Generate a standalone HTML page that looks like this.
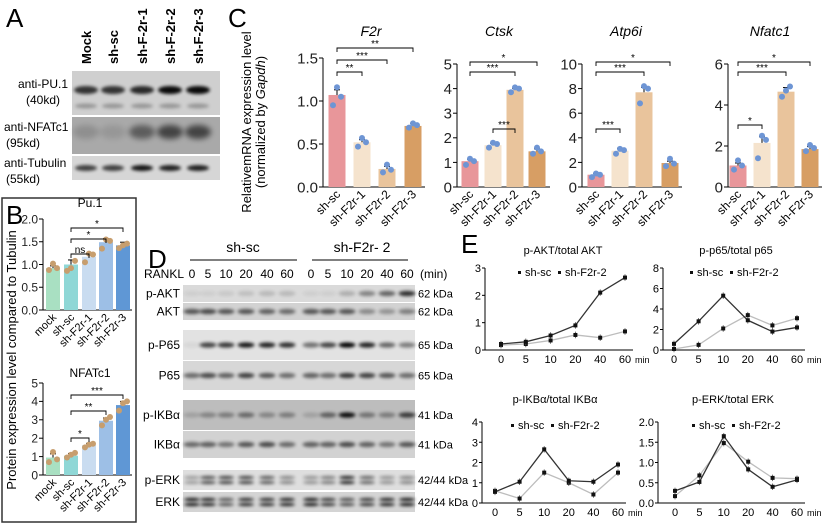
<!DOCTYPE html>
<html><head><meta charset="utf-8"><style>
html,body{margin:0;padding:0;background:#fff;}
svg{display:block;font-family:"Liberation Sans",Arial,sans-serif;}
</style></head><body>
<svg id="fig" width="825" height="524" viewBox="0 0 825 524" xmlns="http://www.w3.org/2000/svg">
<defs>
<filter id="blur1" x="-50%" y="-200%" width="200%" height="500%"><feGaussianBlur stdDeviation="1.6"/></filter>
<filter id="blur2" x="-50%" y="-200%" width="200%" height="500%"><feGaussianBlur stdDeviation="3"/></filter>
</defs>
</svg>
<script>
// ---------- DATA ----------
// Panel B
const bCats = ["mock","sh-sc","sh-F2r-1","sh-F2r-2","sh-F2r-3"];
const bPu1 = [0.92,1.0,1.17,1.49,1.42];
const bPu1Err = [0.05,0.1,0.08,0.08,0.07];
const bPu1Dots = [[0.88,1.02,0.92],[0.86,0.92,1.08],[1.05,1.24,1.22],[1.35,1.55,1.52],[1.36,1.42,1.46]];
const bNfat = [0.95,1.05,1.62,2.95,3.8];
const bNfatErr = [0.2,0.12,0.1,0.15,0.2];
const bNfatDots = [[0.7,1.25,0.85],[0.95,1.1,1.2],[1.5,1.65,1.7],[2.7,3.0,3.15],[3.5,3.9,4.0]];
// Panel C
const cCats = ["sh-sc","sh-F2r-1","sh-F2r-2","sh-F2r-3"];
const cF2r = [1.07,0.52,0.21,0.71];
const cF2rDots = [[0.95,1.16,1.05],[0.47,0.57,0.52],[0.17,0.26,0.2],[0.69,0.74,0.72]];
const cCtsk = [1.05,1.7,3.95,1.45];
const cCtskDots = [[0.9,1.15,1.05],[1.6,1.8,1.75],[3.85,4.05,4.0],[1.35,1.6,1.45]];
const cAtp = [1.0,2.95,7.7,1.95];
const cAtpDots = [[0.8,1.1,1.0],[2.7,3.1,3.0],[6.8,8.2,8.0],[1.7,2.3,1.9]];
const cNfat = [1.05,2.15,4.65,1.85];
const cNfatDots = [[0.85,1.3,1.05],[1.4,2.5,2.3],[4.4,4.7,4.9],[1.75,2.05,1.9]];
// Panel E
const eTimes = ["0","5","10","20","40","60"];
const eAktKd = [0.22,0.3,0.53,0.9,2.1,2.65];
const eAktSc = [0.18,0.22,0.35,0.55,0.45,0.68];
const eP65Kd = [0.6,2.8,5.3,2.9,1.8,2.2];
const eP65Sc = [0.1,0.5,2.1,3.4,2.4,3.1];
const eIkbKd = [0.55,1.05,2.65,1.1,1.05,1.9];
const eIkbSc = [0.6,0.22,1.5,1.0,0.42,1.5];
const eErkKd = [0.3,0.52,1.65,0.83,0.4,0.57];
const eErkSc = [0.17,0.68,1.48,1.02,0.62,0.6];

const NS="http://www.w3.org/2000/svg";
const svg=document.getElementById('fig');
function mk(tag,attrs,parent){const e=document.createElementNS(NS,tag);for(const k in attrs)e.setAttribute(k,attrs[k]);(parent||svg).appendChild(e);return e;}
function txt(s,attrs,parent){const e=mk('text',attrs,parent);e.textContent=s;return e;}

// ---------- Panel letters ----------
[["A",6,27],["C",228,27],["B",6,224],["D",148,268],["E",461,253]].forEach(p=>{
  const t=txt(p[0],{x:p[1],y:p[2],'font-size':26,fill:'#000'});
  
  
});

// ---------- Panel A blot ----------
const aLanes=["Mock","sh-sc","sh-F-2r-1","sh-F-2r-2","sh-F-2r-3"];
const aLaneX=[86,113,142,170,198];
const aPu=[0.75,0.75,0.8,0.95,0.95];
const aNf=[0.15,0.1,0.45,0.6,0.6];
const aTub=[0.7,0.7,0.9,0.85,0.85];
const gA=mk('g',{});


aLanes.forEach((l,i)=>{
  const t=txt(l,{x:aLaneX[i]+5,y:64,'font-size':13,'font-weight':'bold',transform:`rotate(-90 ${aLaneX[i]+5} 64)`},gA);
  
  
});
mk('rect',{x:72,y:71,width:148,height:44,fill:'#cfcfcf'},gA);
mk('rect',{x:72,y:117,width:148,height:37,fill:'#a9a9a9'},gA);
mk('rect',{x:72,y:156,width:148,height:24,fill:'#d6d6d6'},gA);
aLaneX.forEach((x,i)=>{
  mk('ellipse',{cx:x,cy:90,rx:12,ry:4,fill:'#000',opacity:aPu[i],filter:'url(#blur1)'},gA);
  mk('ellipse',{cx:x,cy:106,rx:11,ry:2.5,fill:'#333',opacity:0.35,filter:'url(#blur1)'},gA);
  mk('ellipse',{cx:x,cy:132,rx:13,ry:7,fill:'#000',opacity:aNf[i],filter:'url(#blur2)'},gA);
  mk('ellipse',{cx:x,cy:168,rx:11,ry:3,fill:'#000',opacity:aTub[i],filter:'url(#blur1)'},gA);
});
[["anti-PU.1",88],["(40kd)",104],["anti-NFATc1",131],["(95kd)",147],["anti-Tubulin",167],["(55kd)",183]].forEach(r=>{
  const t=txt(r[0],{x:r[0][0]=='('?4:68,y:r[1],'font-size':12,'text-anchor':r[0][0]=='('?'start':'end'},gA);
  
  
});
gA.querySelectorAll('text').forEach(t=>{if(t.textContent==="(40kd)"){t.setAttribute('x',26);} if(t.textContent==="(95kd)"||t.textContent==="(55kd)"){t.setAttribute('x',6);} if(t.textContent==="anti-NFATc1"||t.textContent==="anti-Tubulin"){t.setAttribute('text-anchor','start');t.setAttribute('x',4);}});

// ---------- Generic bar chart ----------
function barChart(cfg){
  const g=mk('g',{});
  
  
  const ys=v=>cfg.y0-(v/cfg.max)*(cfg.y0-cfg.yTop);
  mk('line',{x1:cfg.ax,y1:cfg.yTop,x2:cfg.ax,y2:cfg.y0,stroke:'#000','stroke-width':1},g);
  mk('line',{x1:cfg.ax,y1:cfg.y0,x2:cfg.xEnd,y2:cfg.y0,stroke:'#000','stroke-width':1},g);
  cfg.ticks.forEach(tv=>{
    const y=ys(tv);
    mk('line',{x1:cfg.ax-4,y1:y,x2:cfg.ax,y2:y,stroke:'#000'},g);
    const t=txt(cfg.fmt(tv),{x:cfg.ax-5,y:y+cfg.fs*0.36,'font-size':cfg.fs,'text-anchor':'end',fill:'#222'},g);
    
    
  });
  if(cfg.title){const t=txt(cfg.title,{x:cfg.titleX,y:cfg.titleY,'font-size':cfg.titleFs,'text-anchor':'middle','font-style':cfg.italic?'italic':'normal'},g);
    
    }
  cfg.vals.forEach((v,i)=>{
    const x=cfg.xs[i];
    const r=mk('rect',{x:x-cfg.bw/2,y:ys(v),width:cfg.bw,height:cfg.y0-ys(v),fill:cfg.colors[i]},g);
    
    
    const e=cfg.err[i];
    mk('line',{x1:x,y1:ys(v),x2:x,y2:ys(v+e),stroke:'#000'},g);
    mk('line',{x1:x-3,y1:ys(v+e),x2:x+3,y2:ys(v+e),stroke:'#000'},g);
    cfg.dots[i].forEach((d,j)=>{
      const c=mk('circle',{cx:x+(j-1)*4,cy:ys(d),r:3,fill:cfg.dotColor},g);
      
      
    });
    const lt=txt(cfg.cats[i],{x:x+4,y:cfg.y0+8,'font-size':cfg.lfs,'text-anchor':'end',transform:`rotate(-45 ${x+4} ${cfg.y0+8})`},g);
    
    
  });
  cfg.brackets.forEach(b=>{
    const x1=cfg.xs[b[0]],x2=cfg.xs[b[1]],y=b[2];
    const p=mk('path',{d:`M${x1},${y+4}V${y}H${x2}V${y+4}`,fill:'none',stroke:'#000','stroke-width':0.9},g);
    
    
    const t=txt(b[3],{x:(x1+x2)/2,y:y-1,'font-size':10,'text-anchor':'middle'},g);
    
    
  });
}

// ---------- Panel B ----------
const box=mk('rect',{x:2,y:198,width:134,height:324,fill:'none',stroke:'#333','stroke-width':1.5});


const bColors=['#a9e0c2','#8fd7d6','#c9dcf0','#9dbfe6','#5f97d5'];
const bXs=[53,71,89,106,123];
barChart({name:'pu1-bar-chart',ax:43,y0:310,yTop:219,max:2,xEnd:132,ticks:[0,0.5,1,1.5,2],fmt:v=>v.toFixed(1),fs:12,
  title:'Pu.1',titleX:90,titleY:207,titleFs:12,cats:bCats,vals:bPu1,err:bPu1Err,dots:bPu1Dots,xs:bXs,bw:14,colors:bColors,dotColor:'#c79e6e',lfs:11,
  brackets:[[1,2,254,'ns'],[1,3,239,'*'],[1,4,228,'*']]});
barChart({name:'nfatc1-bar-chart',ax:43,y0:475,yTop:383,max:5,xEnd:132,ticks:[0,1,2,3,4,5],fmt:v=>String(v),fs:12,
  title:'NFATc1',titleX:90,titleY:377,titleFs:12,cats:bCats,vals:bNfat,err:bNfatErr,dots:bNfatDots,xs:bXs,bw:14,colors:bColors,dotColor:'#c79e6e',lfs:11,
  brackets:[[1,2,438,'*'],[1,3,411,'**'],[1,4,395,'***']]});
const bY=txt('Protein expression level compared to Tubulin',{x:16,y:360,'font-size':13,'text-anchor':'middle',transform:'rotate(-90 16 360)'});



// ---------- Panel C ----------
const cColors=['#e8969a','#f5e3cd','#e9c49c','#d79e64'];
const cY1=txt('RelativemRNA expression level',{x:251,y:122,'font-size':13,'text-anchor':'middle',transform:'rotate(-90 251 122)'});


const cY2=mk('text',{x:265,y:122,'font-size':13,'text-anchor':'middle',transform:'rotate(-90 265 122)'});
cY2.innerHTML='(normalized by <tspan font-style="italic">Gapdh</tspan>)';


barChart({name:'f2r-bar-chart',ax:323,y0:187,yTop:58,max:1.5,xEnd:425,ticks:[0,0.5,1,1.5],fmt:v=>v.toFixed(1),fs:15,
  title:'F2r',titleX:371,titleY:36,titleFs:14,italic:true,cats:cCats,vals:cF2r,err:[0.06,0.03,0.03,0.03],dots:cF2rDots,xs:[337,362,387,413],bw:17,colors:cColors,dotColor:'#6e95d4',lfs:12,
  brackets:[[0,1,72,'**'],[0,2,60,'***'],[0,3,48,'**']]});
barChart({name:'ctsk-bar-chart',ax:457,y0:187,yTop:64,max:5,xEnd:550,ticks:[0,1,2,3,4,5],fmt:v=>String(v),fs:15,
  title:'Ctsk',titleX:499,titleY:36,titleFs:14,italic:true,cats:cCats,vals:cCtsk,err:[0.08,0.08,0.06,0.1],dots:cCtskDots,xs:[470,493,515,537],bw:17,colors:cColors,dotColor:'#6e95d4',lfs:12,
  brackets:[[1,2,129,'***'],[0,2,72,'***'],[0,3,62,'*']]});
barChart({name:'atp6i-bar-chart',ax:582,y0:187,yTop:64,max:10,xEnd:682,ticks:[0,2,4,6,8,10],fmt:v=>String(v),fs:15,
  title:'Atp6i',titleX:626,titleY:36,titleFs:14,italic:true,cats:cCats,vals:cAtp,err:[0.1,0.2,0.4,0.15],dots:cAtpDots,xs:[596,620,644,670],bw:17,colors:cColors,dotColor:'#6e95d4',lfs:12,
  brackets:[[0,1,129,'***'],[0,2,72,'***'],[0,3,62,'*']]});
barChart({name:'nfatc1-mrna-bar-chart',ax:728,y0:187,yTop:64,max:6,xEnd:822,ticks:[0,2,4,6],fmt:v=>String(v),fs:15,
  title:'Nfatc1',titleX:770,titleY:36,titleFs:14,italic:true,cats:cCats,vals:cNfat,err:[0.12,0.3,0.2,0.12],dots:cNfatDots,xs:[738,762,786,810],bw:17,colors:cColors,dotColor:'#6e95d4',lfs:12,
  brackets:[[0,1,125,'*'],[0,2,72,'***'],[0,3,62,'*']]});

// ---------- Panel D blot ----------
const dTimes=["0","5","10","20","40","60","0","5","10","20","40","60"];
const dLaneX=[192,208,226,246,267,287,311,328,347,367,387,407];
const dRows=[
  {name:'p-AKT',y1:285,y2:302,bg:'#dadada',kda:'62 kDa',band:[0.05,0.05,0.08,0.12,0.15,0.15,0.05,0.05,0.2,0.4,0.55,0.8]},
  {name:'AKT',y1:303,y2:320,bg:'#d2d2d2',kda:'62 kDa',band:[0.6,0.65,0.6,0.6,0.55,0.5,0.6,0.6,0.6,0.35,0.3,0.4]},
  {name:'p-P65',y1:330,y2:360,bg:'#e2e2e2',kda:'65 kDa',band:[0.05,0.7,0.75,0.9,0.85,0.8,0.5,0.7,1,0.85,0.55,0.45]},
  {name:'P65',y1:361,y2:390,bg:'#d7d7d7',kda:'65 kDa',band:[0.5,0.65,0.55,0.7,0.6,0.5,0.55,0.5,0.75,0.7,0.6,0.5]},
  {name:'p-IKB\u03b1',y1:400,y2:430,bg:'#bdbdbd',kda:'41 kDa',band:[0.15,0.3,0.35,0.45,0.3,0.35,0.15,0.5,0.95,0.4,0.35,0.7]},
  {name:'IKB\u03b1',y1:431,y2:458,bg:'#d2d2d2',kda:'41 kDa',band:[0.5,0.55,0.45,0.6,0.65,0.5,0.55,0.55,0.65,0.55,0.45,0.6]},
  {name:'p-ERK',y1:470,y2:490,bg:'#dedede',kda:'42/44 kDa',band:[0.3,0.65,0.7,0.7,0.6,0.4,0.35,0.45,0.85,0.55,0.35,0.4]},
  {name:'ERK',y1:492,y2:512,bg:'#d4d4d4',kda:'42/44 kDa',band:[0.9,0.85,0.6,0.8,0.8,0.85,0.9,0.75,0.65,0.75,0.85,0.9]}
];
const gD=mk('g',{});


[["sh-sc",243,190,297],["sh-F2r- 2",362,312,408]].forEach(h=>{
  const t=txt(h[0],{x:h[1],y:252,'font-size':14,'text-anchor':'middle'},gD);
  
  
  mk('line',{x1:h[2],y1:260,x2:h[3],y2:260,stroke:'#000','stroke-width':1},gD);
});
txt('RANKL',{x:144,y:278,'font-size':12},gD);
dTimes.forEach((s,i)=>{
  const t=txt(s,{x:dLaneX[i],y:278,'font-size':12,'text-anchor':'middle'},gD);
  
  
});
txt('(min)',{x:420,y:278,'font-size':12},gD);
dRows.forEach(r=>{
  mk('rect',{x:183,y:r.y1,width:232,height:r.y2-r.y1,fill:r.bg},gD);
  const cy=(r.y1+r.y2)/2;
  const dbl=r.name.indexOf('ERK')>=0;
  r.band.forEach((b,i)=>{
    if(dbl){
      mk('ellipse',{cx:dLaneX[i],cy:cy-2.5,rx:8,ry:1.6,fill:'#000',opacity:b,filter:'url(#blur1)'},gD);
      mk('ellipse',{cx:dLaneX[i],cy:cy+2.5,rx:8,ry:1.6,fill:'#000',opacity:b,filter:'url(#blur1)'},gD);
    } else {
      mk('ellipse',{cx:dLaneX[i],cy:cy,rx:8.5,ry:2.6,fill:'#000',opacity:b,filter:'url(#blur1)'},gD);
    }
  });
  const t=txt(r.name,{x:180,y:cy+4,'font-size':12,'text-anchor':'end'},gD);
  
  
  const k=txt(r.kda,{x:418,y:cy+4,'font-size':11},gD);
  
  
});

// ---------- Panel E line charts ----------
function lineChart(cfg){
  const g=mk('g',{});
  
  
  const ys=v=>cfg.y0-(v/cfg.max)*(cfg.y0-cfg.yTop);
  const xs=i=>cfg.x0+i*(cfg.x1-cfg.x0)/(eTimes.length-1);
  mk('line',{x1:cfg.ax,y1:cfg.yTop,x2:cfg.ax,y2:cfg.y0,stroke:'#000'},g);
  mk('line',{x1:cfg.ax,y1:cfg.y0,x2:cfg.x1+8,y2:cfg.y0,stroke:'#000'},g);
  cfg.ticks.forEach(tv=>{
    mk('line',{x1:cfg.ax-3,y1:ys(tv),x2:cfg.ax,y2:ys(tv),stroke:'#000'},g);
    const t=txt(cfg.fmt(tv),{x:cfg.ax-4,y:ys(tv)+4,'font-size':11,'text-anchor':'end'},g);
    
    
  });
  eTimes.forEach((s,i)=>{
    const t=txt(s,{x:xs(i),y:cfg.y0+13,'font-size':11,'text-anchor':'middle'},g);
    
    
  });
  txt('min',{x:cfg.x1+10,y:cfg.y0+13,'font-size':9},g);
  const tt=txt(cfg.title,{x:cfg.titleX,y:cfg.titleY,'font-size':11,'text-anchor':'middle'},g);
  
  
  [[cfg.sc,'#bdbdbd','sh-sc'],[cfg.kd,'#333','sh-F2r-2']].forEach(s=>{
    const p=mk('polyline',{points:s[0].map((v,i)=>xs(i)+','+ys(v)).join(' '),fill:'none',stroke:s[1],'stroke-width':1.3},g);
    
    
    s[0].forEach((v,i)=>{
      const e=cfg.max*0.04;
      mk('line',{x1:xs(i),y1:ys(v+e),x2:xs(i),y2:ys(v-e),stroke:'#555','stroke-width':0.8},g);
      const m=mk('rect',{x:xs(i)-2,y:ys(v)-2,width:4,height:4,fill:'#111'},g);
      
      
    });
  });
  const lg=mk('g',{},g);
  
  
  mk('rect',{x:cfg.legX,y:cfg.legY-5,width:3,height:3,fill:'#111'},lg);
  txt('sh-sc',{x:cfg.legX+7,y:cfg.legY,'font-size':11},lg);
  mk('rect',{x:cfg.legX+40,y:cfg.legY-5,width:3,height:3,fill:'#111'},lg);
  txt('sh-F2r-2',{x:cfg.legX+47,y:cfg.legY,'font-size':11},lg);
}
lineChart({name:'akt-line-chart',ax:485,y0:350,yTop:268,max:3,ticks:[0,1,2,3],fmt:v=>String(v),x0:501,x1:625,
  title:'p-AKT/total AKT',titleX:563,titleY:254,sc:eAktSc,kd:eAktKd,legX:518,legY:276});
lineChart({name:'p65-line-chart',ax:663,y0:350,yTop:268,max:8,ticks:[0,2,4,6,8],fmt:v=>String(v),x0:674,x1:797,
  title:'p-p65/total p65',titleX:736,titleY:254,sc:eP65Sc,kd:eP65Kd,legX:690,legY:276});
lineChart({name:'ikba-line-chart',ax:482,y0:503,yTop:422,max:4,ticks:[0,1,2,3,4],fmt:v=>String(v),x0:495,x1:618,
  title:'p-IKB\u03b1/total IKB\u03b1',titleX:555,titleY:403,sc:eIkbSc,kd:eIkbKd,legX:511,legY:429});
lineChart({name:'erk-line-chart',ax:658,y0:503,yTop:422,max:2,ticks:[0,0.5,1,1.5,2],fmt:v=>v.toFixed(1),x0:675,x1:797,
  title:'p-ERK/total ERK',titleX:733,titleY:403,sc:eErkSc,kd:eErkKd,legX:692,legY:429});
</script>
</body></html>
